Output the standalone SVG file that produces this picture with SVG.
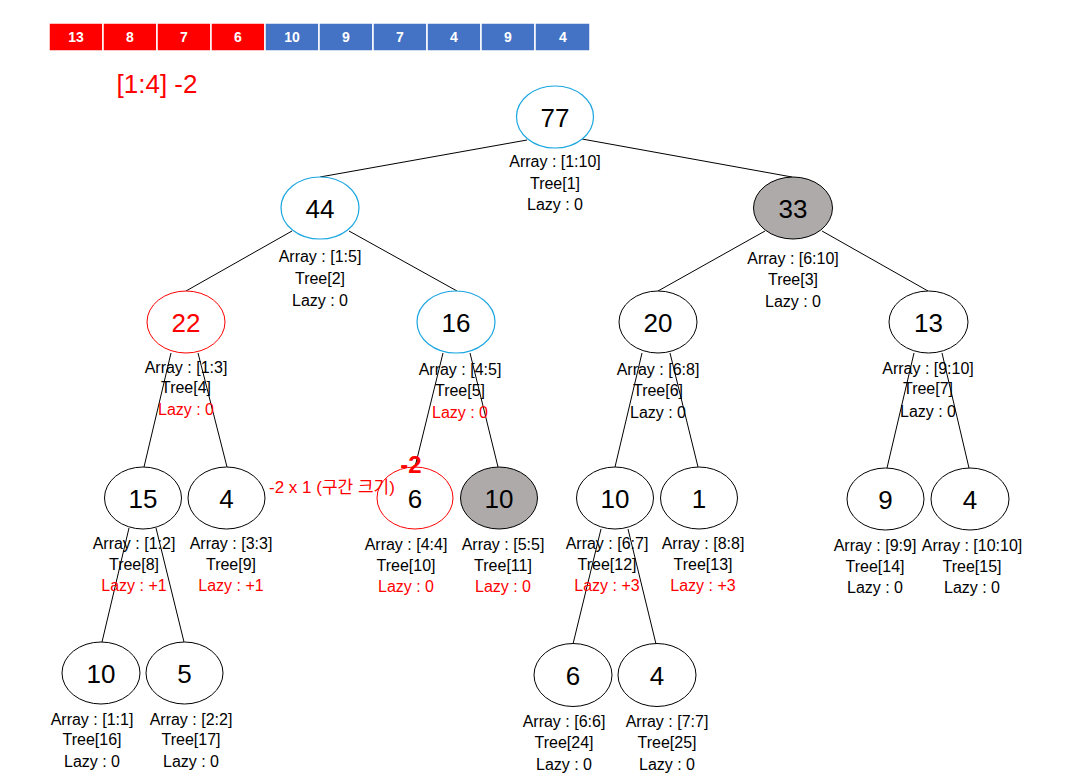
<svg xmlns="http://www.w3.org/2000/svg" width="1076" height="783" viewBox="0 0 1076 783">
<style>
.cell{stroke:#ffffff;stroke-width:1.5}
.r{fill:#ff0000}
.b{fill:#4472c4}
.ct{font-family:"Liberation Sans",Arial,sans-serif;font-size:14px;font-weight:bold;fill:#ffffff;text-anchor:middle}
.n{fill:#ffffff;stroke:#000000;stroke-width:1}
.nb{fill:#ffffff;stroke:#1aa6e0;stroke-width:1.2}
.nr{fill:#ffffff;stroke:#ff0000;stroke-width:1}
.ng{fill:#aeaaaa;stroke:#000000;stroke-width:1}
.num{font-family:"Liberation Sans",Arial,sans-serif;font-size:26px;fill:#000000;text-anchor:middle}
.lb{font-family:"Liberation Sans",Arial,sans-serif;font-size:16px;fill:#000000;text-anchor:middle}
.red{fill:#ff0000}
.edge{stroke:#000000;stroke-width:1;fill:none}
.note{font-family:"Liberation Sans","Noto Sans CJK KR",sans-serif;fill:#ff0000}
</style>
<rect width="1076" height="783" fill="#ffffff"/>
<g id="array">
<rect class="cell r" x="49" y="23" width="54" height="28"/>
<rect class="cell r" x="103" y="23" width="54" height="28"/>
<rect class="cell r" x="157" y="23" width="54" height="28"/>
<rect class="cell r" x="211" y="23" width="54" height="28"/>
<rect class="cell b" x="265" y="23" width="54" height="28"/>
<rect class="cell b" x="319" y="23" width="54" height="28"/>
<rect class="cell b" x="373" y="23" width="54" height="28"/>
<rect class="cell b" x="427" y="23" width="54" height="28"/>
<rect class="cell b" x="481" y="23" width="54" height="28"/>
<rect class="cell b" x="535" y="23" width="55" height="28"/>
<text class="ct" x="76" y="42">13</text>
<text class="ct" x="130" y="42">8</text>
<text class="ct" x="184" y="42">7</text>
<text class="ct" x="238" y="42">6</text>
<text class="ct" x="292" y="42">10</text>
<text class="ct" x="346" y="42">9</text>
<text class="ct" x="400" y="42">7</text>
<text class="ct" x="454" y="42">4</text>
<text class="ct" x="508" y="42">9</text>
<text class="ct" x="563" y="42">4</text>
</g>
<text id="query" class="note" x="157" y="93" font-size="26" text-anchor="middle">[1:4] -2</text>
<g id="connectors">
<line class="edge" x1="527" y1="140" x2="320" y2="177"/>
<line class="edge" x1="582" y1="139" x2="792" y2="177"/>
<line class="edge" x1="292" y1="231" x2="186" y2="291"/>
<line class="edge" x1="349" y1="231" x2="457" y2="291"/>
<line class="edge" x1="765" y1="231" x2="658" y2="291"/>
<line class="edge" x1="822" y1="231" x2="928" y2="291"/>
<line class="edge" x1="171" y1="353" x2="144" y2="467"/>
<line class="edge" x1="198" y1="353" x2="227" y2="467"/>
<line class="edge" x1="443" y1="353" x2="415" y2="467"/>
<line class="edge" x1="470" y1="353" x2="498" y2="467"/>
<line class="edge" x1="642" y1="353" x2="615" y2="467"/>
<line class="edge" x1="670" y1="353" x2="698" y2="467"/>
<line class="edge" x1="914" y1="353" x2="887" y2="468"/>
<line class="edge" x1="942" y1="353" x2="969" y2="468"/>
<line class="edge" x1="129" y1="528" x2="102" y2="642"/>
<line class="edge" x1="156" y1="528" x2="184" y2="642"/>
<line class="edge" x1="601" y1="529" x2="573" y2="644"/>
<line class="edge" x1="628" y1="529" x2="656" y2="644"/>
</g>
<g id="node1">
<ellipse class="nb" cx="555" cy="117" rx="38.5" ry="31"/>
<text class="num" x="555" y="127">77</text>
<text class="lb" x="555" y="167">Array : [1:10]</text>
<text class="lb" x="555" y="189">Tree[1]</text>
<text class="lb" x="555" y="210">Lazy : 0</text>
</g>
<g id="node2">
<ellipse class="nb" cx="320" cy="208" rx="39" ry="31"/>
<text class="num" x="320" y="218">44</text>
<text class="lb" x="320" y="262">Array : [1:5]</text>
<text class="lb" x="320" y="284">Tree[2]</text>
<text class="lb" x="320" y="306">Lazy : 0</text>
</g>
<g id="node3">
<ellipse class="ng" cx="793" cy="208" rx="39.5" ry="31"/>
<text class="num" x="793" y="218">33</text>
<text class="lb" x="793" y="264">Array : [6:10]</text>
<text class="lb" x="793" y="285">Tree[3]</text>
<text class="lb" x="793" y="307">Lazy : 0</text>
</g>
<g id="node4">
<ellipse class="nr" cx="186" cy="322" rx="39" ry="31"/>
<text class="num red" x="186" y="332">22</text>
<text class="lb" x="186" y="373">Array : [1:3]</text>
<text class="lb" x="186" y="393">Tree[4]</text>
<text class="lb red" x="186" y="415">Lazy : 0</text>
</g>
<g id="node5">
<ellipse class="nb" cx="456" cy="322" rx="39" ry="31"/>
<text class="num" x="456" y="332">16</text>
<text class="lb" x="460" y="375">Array : [4:5]</text>
<text class="lb" x="460" y="396">Tree[5]</text>
<text class="lb red" x="460" y="418">Lazy : 0</text>
</g>
<g id="node6">
<ellipse class="n" cx="658" cy="322" rx="39" ry="31"/>
<text class="num" x="658" y="332">20</text>
<text class="lb" x="658" y="375">Array : [6:8]</text>
<text class="lb" x="658" y="396">Tree[6]</text>
<text class="lb" x="658" y="418">Lazy : 0</text>
</g>
<g id="node7">
<ellipse class="n" cx="928.5" cy="322" rx="39.5" ry="31"/>
<text class="num" x="928.5" y="332">13</text>
<text class="lb" x="928" y="374">Array : [9:10]</text>
<text class="lb" x="928" y="394">Tree[7]</text>
<text class="lb" x="928" y="417">Lazy : 0</text>
</g>
<g id="node8">
<ellipse class="n" cx="143" cy="498" rx="38.5" ry="31"/>
<text class="num" x="143" y="508">15</text>
<text class="lb" x="134" y="549">Array : [1:2]</text>
<text class="lb" x="134" y="570">Tree[8]</text>
<text class="lb red" x="134" y="591">Lazy : +1</text>
</g>
<g id="node9">
<ellipse class="n" cx="226.5" cy="498" rx="38.5" ry="31"/>
<text class="num" x="226.5" y="508">4</text>
<text class="lb" x="231" y="549">Array : [3:3]</text>
<text class="lb" x="231" y="570">Tree[9]</text>
<text class="lb red" x="231" y="591">Lazy : +1</text>
</g>
<g id="node10">
<ellipse class="nr" cx="415" cy="498" rx="38" ry="31"/>
<text class="num" x="415" y="508">6</text>
<text class="lb" x="406" y="550">Array : [4:4]</text>
<text class="lb" x="406" y="571">Tree[10]</text>
<text class="lb red" x="406" y="592">Lazy : 0</text>
</g>
<g id="node11">
<ellipse class="ng" cx="499" cy="498" rx="38.5" ry="31"/>
<text class="num" x="499" y="508">10</text>
<text class="lb" x="503" y="550">Array : [5:5]</text>
<text class="lb" x="503" y="571">Tree[11]</text>
<text class="lb red" x="503" y="592">Lazy : 0</text>
</g>
<g id="node12">
<ellipse class="n" cx="615" cy="498" rx="38.5" ry="31"/>
<text class="num" x="615" y="508">10</text>
<text class="lb" x="607" y="549">Array : [6:7]</text>
<text class="lb" x="607" y="570">Tree[12]</text>
<text class="lb red" x="607" y="591">Lazy : +3</text>
</g>
<g id="node13">
<ellipse class="n" cx="699" cy="498" rx="38.5" ry="31"/>
<text class="num" x="699" y="508">1</text>
<text class="lb" x="703" y="549">Array : [8:8]</text>
<text class="lb" x="703" y="570">Tree[13]</text>
<text class="lb red" x="703" y="591">Lazy : +3</text>
</g>
<g id="node14">
<ellipse class="n" cx="885.5" cy="499" rx="38.5" ry="31"/>
<text class="num" x="885.5" y="509">9</text>
<text class="lb" x="875" y="551">Array : [9:9]</text>
<text class="lb" x="875" y="572">Tree[14]</text>
<text class="lb" x="875" y="593">Lazy : 0</text>
</g>
<g id="node15">
<ellipse class="n" cx="970" cy="499" rx="39" ry="31"/>
<text class="num" x="970" y="509">4</text>
<text class="lb" x="972" y="551">Array : [10:10]</text>
<text class="lb" x="972" y="572">Tree[15]</text>
<text class="lb" x="972" y="593">Lazy : 0</text>
</g>
<g id="node16">
<ellipse class="n" cx="101" cy="673" rx="39" ry="31"/>
<text class="num" x="101" y="683">10</text>
<text class="lb" x="92" y="725">Array : [1:1]</text>
<text class="lb" x="92" y="745">Tree[16]</text>
<text class="lb" x="92" y="767">Lazy : 0</text>
</g>
<g id="node17">
<ellipse class="n" cx="184.5" cy="673" rx="38.5" ry="31"/>
<text class="num" x="184.5" y="683">5</text>
<text class="lb" x="191" y="725">Array : [2:2]</text>
<text class="lb" x="191" y="745">Tree[17]</text>
<text class="lb" x="191" y="767">Lazy : 0</text>
</g>
<g id="node24">
<ellipse class="n" cx="573" cy="675" rx="39" ry="31.5"/>
<text class="num" x="573" y="685">6</text>
<text class="lb" x="564" y="727">Array : [6:6]</text>
<text class="lb" x="564" y="748">Tree[24]</text>
<text class="lb" x="564" y="770">Lazy : 0</text>
</g>
<g id="node25">
<ellipse class="n" cx="657" cy="675" rx="39" ry="31.5"/>
<text class="num" x="657" y="685">4</text>
<text class="lb" x="667" y="727">Array : [7:7]</text>
<text class="lb" x="667" y="748">Tree[25]</text>
<text class="lb" x="667" y="770">Lazy : 0</text>
</g>
<g id="annotations">
<text class="note" x="411" y="473" font-size="24" font-weight="bold" text-anchor="middle">-2</text>
<text class="note" x="269" y="493" font-size="17">-2 x 1 (구간 크기)</text>
</g>
</svg>
